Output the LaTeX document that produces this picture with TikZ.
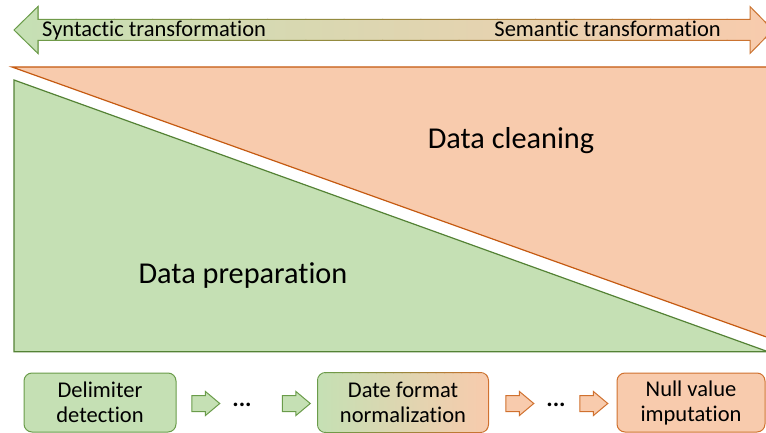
\documentclass[tikz,border=0pt]{standalone}
\usepackage{fontspec}
\setmainfont{Carlito}[Ligatures=NoCommon]
\usetikzlibrary{shapes.arrows,calc}

\definecolor{gfill}{HTML}{C5E0B4}
\definecolor{gline}{HTML}{548235}
\definecolor{gedge}{HTML}{6A9C4A}
\definecolor{ofill}{HTML}{F8CBAD}
\definecolor{oline}{HTML}{C55A11}
\definecolor{oedge}{HTML}{D0712F}

\tikzset{
  stepbox/.style={rounded corners=8pt, minimum width=152pt, minimum height=59pt,
    align=center, inner sep=0pt, line width=1pt,
    font=\fontsize{22.5}{25}\selectfont},
  greenbox/.style={stepbox, fill=gfill, draw=gedge},
  orangebox/.style={stepbox, fill=ofill, draw=oedge},
  blockarrow/.style={single arrow, minimum height=28pt, minimum width=23pt,
    inner sep=7.5pt, single arrow head extend=4pt, single arrow tip angle=80,
    line width=1pt},
  greenarrow/.style={blockarrow, fill=gfill, draw=gedge},
  orangearrow/.style={blockarrow, fill=ofill, draw=oedge},
  dots/.style={font=\fontsize{24}{26}\selectfont\bfseries, inner sep=0pt, anchor=base},
  bigtext/.style={font=\fontsize{30.3}{36}\selectfont},
  toptext/.style={font=\fontsize{22.5}{26}\selectfont, inner sep=0pt},
}

\begin{document}
\begin{tikzpicture}[x=1pt,y=-1pt]
\useasboundingbox (0,0) rectangle (766,433);
\clip (0,0) rectangle (766,433);

% upper triangle: data cleaning
\fill[ofill] (12,67) -- (772,67) -- (772,339) -- cycle;
\draw[oline, line width=1.2pt] (772,339) -- (12,67) -- (772,67);

% lower triangle: data preparation
\fill[gfill] (14,80) -- (768,351.7) -- (14,351.7) -- cycle;
\draw[gline, line width=1.2pt] (14,80) -- (768,351.7) -- (14,351.7) -- cycle;

\node[bigtext] (clean) at (511,141) {Data cleaning};
\node[bigtext] (prep) at (243,276) {Data preparation};

% double-headed scale arrow with a green-to-orange gradient
\def\scalearrow{(14,30) -- (38,6.5) -- (38,19.5) -- (750,19.5) -- (750,6.5) -- (773,30)
  -- (750,53.5) -- (750,40.5) -- (38,40.5) -- (38,53.5) -- cycle}
\shade[left color=gfill, right color=ofill] \scalearrow;
\foreach \i [evaluate=\i as \p using 100-\i*5] in {0,...,20}{
  \begin{scope}
    \clip (\i*38.3-1,0) rectangle (\i*38.3+38.3,70);
    \draw[gedge!\p!oedge, line width=1pt, line join=miter] \scalearrow;
  \end{scope}
}
\node[toptext, anchor=base west] (syn) at (42,36.5) {Syntactic transformation};
\node[toptext, anchor=base east] (sem) at (721,36.5) {Semantic transformation};

% pipeline of example steps
\node[greenbox] (delim) at (100,402.5) {Delimiter\\detection};
\node[stepbox, minimum width=170pt, left color=gfill, right color=ofill] (date) at (403,402.5) {Date format\\normalization};
\foreach \i [evaluate=\i as \p using 100-\i*5] in {0,...,20}{
  \begin{scope}
    \clip ($(date.west)+(\i*8.5-1,-40)$) rectangle ($(date.west)+(\i*8.5+8.5,40)$);
    \draw[gedge!\p!oedge, line width=1pt, rounded corners=8pt]
      (date.south west) rectangle (date.north east);
  \end{scope}
}
\node[orangebox, minimum width=148pt] (null) at (691,402.5) {Null value\\imputation};

\node[greenarrow] (a1) at (201,403.5) {};
\node[dots] (d1) at (242,406) {...};
\node[greenarrow] (a2) at (291.5,403.5) {};
\node[orangearrow] (a3) at (515,403.5) {};
\node[dots] (d2) at (556,406) {...};
\node[orangearrow] (a4) at (589,403.5) {};
\end{tikzpicture}
\end{document}
